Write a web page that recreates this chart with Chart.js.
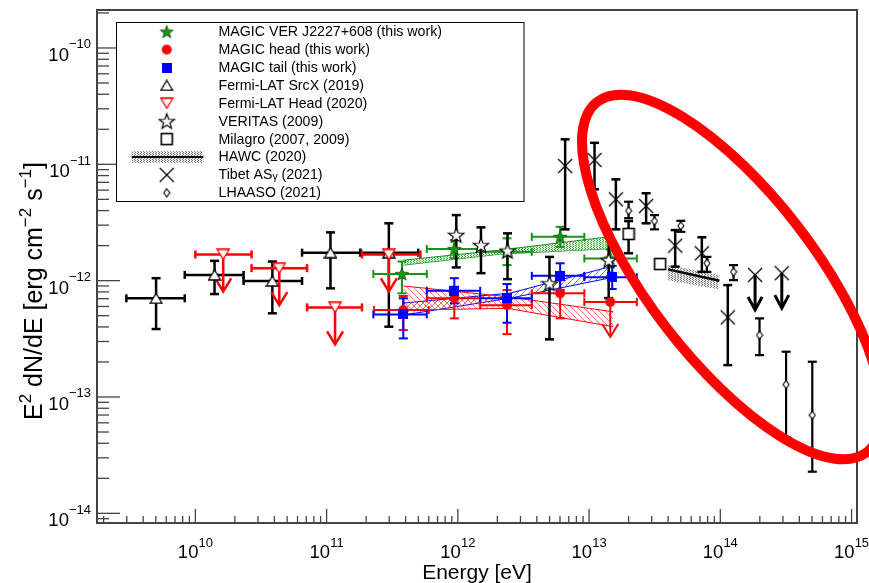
<!DOCTYPE html>
<html><head><meta charset="utf-8">
<script src="https://cdn.jsdelivr.net/npm/chart.js@4.4.1/dist/chart.umd.min.js"></script>
<style>html,body{margin:0;padding:0;background:#fff;}canvas{display:block;}</style>
</head><body>
<canvas id="c" width="869" height="583"></canvas>
<script>
// ---------------- axes ----------------
const xRange = [1.78e9, 1.10e15];
const yRange = [8.26e-15, 2.12e-10];
const xTickExponents = [10, 11, 12, 13, 14, 15];
const yTickExponents = [-14, -13, -12, -11, -10];
const xTitle = 'Energy [eV]';
const yTitleText = ['E', '2', ' dN/dE [erg cm', '\u22122', ' s', '\u22121', ']'];
const yTitleSup = [0, 1, 0, 1, 0, 1, 0];

// ---------------- legend ----------------
const legendLabels = ['MAGIC VER J2227+608 (this work)', 'MAGIC head (this work)', 'MAGIC tail (this work)',
  'Fermi-LAT SrcX (2019)', 'Fermi-LAT Head (2020)', 'VERITAS (2009)', 'Milagro (2007, 2009)',
  'HAWC (2020)', 'Tibet AS\u03b3 (2021)', 'LHAASO (2021)'];

// ---------------- Fermi-LAT SrcX ----------------
const fermiSrcX_E   = [5.02e9, 1.40e10, 3.86e10, 1.07e11, 2.98e11];
const fermiSrcX_Elo = [2.98e9, 8.3e9, 2.33e10, 6.5e10, 1.81e11];
const fermiSrcX_Ehi = [8.3e9, 2.33e10, 6.5e10, 1.81e11, 4.99e11];
const fermiSrcX_F   = [7.05e-13, 1.12e-12, 9.93e-13, 1.74e-12, 1.74e-12];
const fermiSrcX_Flo = [3.84e-13, 7.67e-13, 5.24e-13, 8.59e-13, 4.02e-13];
const fermiSrcX_Fhi = [1.05e-12, 1.48e-12, 1.46e-12, 2.60e-12, 3.11e-12];

// ---------------- Fermi-LAT Head (upper limits) ----------------
const fermiHead_E   = [1.63e10, 4.36e10, 1.16e11, 2.98e11];
const fermiHead_Elo = [1.0e10, 2.68e10, 7.1e10, 1.86e11];
const fermiHead_Ehi = [2.68e10, 7.1e10, 1.86e11, 5.18e11];
const fermiHead_F   = [1.68e-12, 1.28e-12, 5.89e-13, 1.68e-12];

// ---------------- MAGIC VER J2227+608 ----------------
const magicVer_E   = [3.75e11, 9.4e11, 2.37e12, 6.02e12, 1.45e13];
const magicVer_Elo = [2.27e11, 5.8e11, 1.48e12, 3.66e12, 9.2e12];
const magicVer_Ehi = [5.8e11, 1.48e12, 3.66e12, 9.2e12, 2.31e13];
const magicVer_F   = [1.14e-12, 1.87e-12, 1.77e-12, 2.38e-12, 1.55e-12];
const magicVer_Flo = [7.78e-13, 1.56e-12, 1.36e-12, 1.95e-12, 1.30e-12];
const magicVer_Fhi = [1.46e-12, 2.23e-12, 2.31e-12, 2.90e-12, 1.85e-12];

// ---------------- MAGIC head ----------------
const magicHead_E   = [3.84e11, 9.4e11, 2.37e12, 6.02e12, 1.45e13];
const magicHead_Elo = [2.3e11, 5.8e11, 1.48e12, 3.66e12, 9.2e12];
const magicHead_Ehi = [6.0e11, 1.48e12, 3.66e12, 9.2e12, 2.31e13];
const magicHead_F   = [5.59e-13, 7.05e-13, 6.16e-13, 7.78e-13, 6.56e-13];
const magicHead_Flo = [3.76e-13, 4.74e-13, 3.47e-13, 4.74e-13, null];
const magicHead_Fhi = [7.38e-13, 8.87e-13, 8.30e-13, 1.08e-12, null];
const magicHead_UL  = [0, 0, 0, 0, 1];

// ---------------- MAGIC tail ----------------
const magicTail_E   = [3.84e11, 9.4e11, 2.37e12, 6.02e12, 1.50e13];
const magicTail_Elo = [2.27e11, 5.8e11, 1.48e12, 3.66e12, 9.2e12];
const magicTail_Ehi = [5.8e11, 1.48e12, 3.66e12, 9.2e12, 2.31e13];
const magicTail_F   = [5.13e-13, 8.19e-13, 7.05e-13, 1.10e-12, 1.07e-12];
const magicTail_Flo = [3.19e-13, 6.38e-13, 4.35e-13, 8.30e-13, 8.47e-13];
const magicTail_Fhi = [7.05e-13, 1.05e-12, 9.35e-13, 1.41e-12, 1.34e-12];

// ---------------- VERITAS ----------------
const veritas_E   = [9.73e11, 1.50e12, 2.39e12, 4.99e12, 1.41e13];
const veritas_F   = [2.47e-12, 2.02e-12, 1.81e-12, 9.48e-13, 1.50e-12];
const veritas_Flo = [1.30e-12, 1.16e-12, 1.03e-12, 3.13e-13, 7.08e-13];
const veritas_Fhi = [3.66e-12, 2.87e-12, 2.55e-12, 1.60e-12, 2.38e-12];

// ---------------- Milagro ----------------
const milagro_E   = [2.0e13, 3.48e13];
const milagro_F   = [2.52e-12, 1.39e-12];
const milagro_Flo = [1.72e-12, 1.27e-12];
const milagro_Fhi = [3.25e-12, 1.50e-12];

// ---------------- Tibet ASgamma ----------------
const tibet_E   = [6.57e12, 1.10e13, 1.60e13, 2.72e13, 4.53e13, 7.23e13, 1.14e14, 1.84e14, 2.94e14];
const tibet_F   = [9.66e-12, 1.09e-11, 5.0e-12, 4.38e-12, 2.0e-12, 1.72e-12, 4.83e-13, 1.12e-12, 1.16e-12];
const tibet_Flo = [2.76e-12, 6.1e-12, 2.76e-12, 3.11e-12, 1.32e-12, 1.19e-12, 1.88e-13, null, null];
const tibet_Fhi = [1.64e-11, 1.53e-11, 7.43e-12, 5.64e-12, 2.72e-12, 2.36e-12, 9.16e-13, null, null];
const tibet_UL  = [0, 0, 0, 0, 0, 0, 0, 1, 1];

// ---------------- LHAASO ----------------
const lhaaso_E   = [2.0e13, 3.15e13, 5.0e13, 7.9e13, 1.26e14, 1.99e14, 3.17e14, 5.02e14];
const lhaaso_F   = [3.99e-12, 3.25e-12, 2.96e-12, 1.41e-12, 1.19e-12, 3.40e-13, 1.28e-13, 6.98e-14];
const lhaaso_Flo = [3.44e-12, 2.76e-12, 2.63e-12, 1.19e-12, 1.01e-12, 2.29e-13, 4.52e-14, 2.28e-14];
const lhaaso_Fhi = [4.77e-12, 3.66e-12, 3.27e-12, 1.60e-12, 1.36e-12, 4.74e-13, 2.45e-13, 2.01e-13];

// ---------------- spectral bands (butterflies) ----------------
const verBand_E  = [3.84e11, 2.1e12, 1.53e13];
const verBand_Hi = [1.50e-12, 1.83e-12, 2.41e-12];
const verBand_Lo = [1.36e-12, 1.69e-12, 1.89e-12];
const tailBand_E  = [3.84e11, 2.51e12, 1.53e13];
const tailBand_Hi = [6.41e-13, 7.82e-13, 1.34e-12];
const tailBand_Lo = [5.06e-13, 7.08e-13, 1.07e-12];
const headBand_E  = [3.84e11, 2.39e12, 1.53e13];
const headBand_Hi = [9.0e-13, 7.28e-13, 5.40e-13];
const headBand_Lo = [5.59e-13, 5.78e-13, 4.02e-13];
const hawc_E    = [4.0e13, 9.84e13];
const hawc_Hi   = [1.36e-12, 1.12e-12];
const hawc_Lo   = [1.01e-12, 8.41e-13];
const hawc_Line = [1.25e-12, 9.98e-13];

// ---------------- highlight ellipse (major axis end points) ----------------
const ellipseAxisE = [1.153e13, 1.31e15];
const ellipseAxisF = [3.44e-11, 3.36e-14];

// ================= styling / drawing =================
const FONT = '"Liberation Sans", Arial, Helvetica, sans-serif';
const GREEN = 'rgb(20,150,20)', RED = '#ff0000', BLUE = '#0000ff', BLACK = '#000000';
const canvas = document.getElementById('c');
const ctx0 = canvas.getContext('2d');

function mk(w, h, draw) { const c = document.createElement('canvas'); c.width = w; c.height = h; draw(c.getContext('2d'), w / 2, h / 2); return c; }
function starPath(g, cx, cy, R, r) { g.beginPath(); for (let k = 0; k < 10; k++) { const a = -Math.PI / 2 + k * Math.PI / 5; const rr = k % 2 ? r : R; g.lineTo(cx + rr * Math.cos(a), cy + rr * Math.sin(a)); } g.closePath(); }
const M = {
  greenStar: mk(16, 16, (g, cx, cy) => { starPath(g, cx, cy + 0.5, 7, 2.9); g.fillStyle = GREEN; g.fill(); g.strokeStyle = 'rgba(0,60,0,0.8)'; g.lineWidth = 0.8; g.stroke(); }),
  redCircle: mk(12, 12, (g, cx, cy) => { g.beginPath(); g.arc(cx, cy, 5, 0, 2 * Math.PI); g.fillStyle = RED; g.fill(); }),
  blueSquare: mk(10, 10, (g) => { g.fillStyle = BLUE; g.fillRect(0, 0, 10, 10); }),
  triUp: mk(14, 12, (g) => { g.beginPath(); g.moveTo(7, 1); g.lineTo(13, 11); g.lineTo(1, 11); g.closePath(); g.fillStyle = '#fff'; g.fill(); g.strokeStyle = BLACK; g.lineWidth = 1.3; g.stroke(); }),
  triDownRed: mk(14, 12, (g) => { g.beginPath(); g.moveTo(1, 1); g.lineTo(13, 1); g.lineTo(7, 11); g.closePath(); g.fillStyle = '#fff'; g.fill(); g.strokeStyle = RED; g.lineWidth = 1.3; g.stroke(); }),
  openStar: mk(18, 18, (g, cx, cy) => { starPath(g, cx, cy + 0.7, 8, 3.3); g.fillStyle = '#fff'; g.fill(); g.strokeStyle = BLACK; g.lineWidth = 1.2; g.stroke(); }),
  openSquare: mk(14, 14, (g) => { g.fillStyle = '#fff'; g.fillRect(1.5, 1.5, 11, 11); g.strokeStyle = BLACK; g.lineWidth = 1.6; g.strokeRect(1.5, 1.5, 11, 11); }),
  xMark: mk(16, 16, (g) => { g.beginPath(); g.moveTo(1, 1); g.lineTo(15, 15); g.moveTo(15, 1); g.lineTo(1, 15); g.strokeStyle = BLACK; g.lineWidth = 1.3; g.stroke(); }),
  diamond: mk(8, 10, (g) => { g.beginPath(); g.moveTo(4, 1); g.lineTo(7, 5); g.lineTo(4, 9); g.lineTo(1, 5); g.closePath(); g.fillStyle = '#fff'; g.fill(); g.strokeStyle = BLACK; g.lineWidth = 1.1; g.stroke(); })
};

function hatch(color, dir, s, lw) {
  const c = document.createElement('canvas'); c.width = s; c.height = s; const g = c.getContext('2d');
  g.strokeStyle = color; g.lineWidth = lw; g.beginPath();
  for (let k = -1; k <= 1; k++) {
    if (dir > 0) { g.moveTo(k * s, s); g.lineTo(k * s + s, 0); } else { g.moveTo(k * s, 0); g.lineTo(k * s + s, s); }
  }
  g.stroke(); return ctx0.createPattern(c, 'repeat');
}
function dots(bg, dot, w, h, pts) {
  const c = document.createElement('canvas'); c.width = w; c.height = h; const g = c.getContext('2d');
  if (bg) { g.fillStyle = bg; g.fillRect(0, 0, w, h); }
  g.fillStyle = dot; pts.forEach(p => g.fillRect(p[0], p[1], 1, 1));
  return ctx0.createPattern(c, 'repeat');
}
const P = {
  green: dots('rgba(200,235,200,0.6)', 'rgba(30,150,30,0.8)', 3, 2, [[0, 0], [2, 1]]),
  red: hatch('rgba(255,60,60,0.7)', -1, 6, 1),
  blue: hatch('rgba(40,40,255,0.6)', 1, 6, 1),
  hawc: dots('#ececec', '#777', 3, 2, [[0, 0], [2, 1]])
};

const pts = (E, F) => E.map((e, i) => ({ x: e, y: F[i] }));
function band(E, hi, lo, color, pattern, bw) {
  return [
    { type: 'line', data: pts(E, hi), borderColor: color, borderWidth: bw, pointRadius: 0, fill: '+1', backgroundColor: pattern, order: 20, tension: 0 },
    { type: 'line', data: pts(E, lo), borderColor: color, borderWidth: bw, pointRadius: 0, fill: false, order: 20, tension: 0 }
  ];
}
function markers(E, F, style, order) {
  return { type: 'scatter', data: pts(E, F), pointStyle: style, pointRadius: 5, pointHoverRadius: 5, isMarker: true, order: order };
}

const errSeries = [
  { E: fermiSrcX_E, Elo: fermiSrcX_Elo, Ehi: fermiSrcX_Ehi, F: fermiSrcX_F, Flo: fermiSrcX_Flo, Fhi: fermiSrcX_Fhi, color: BLACK, lw: 2.5 },
  { E: fermiHead_E, Elo: fermiHead_Elo, Ehi: fermiHead_Ehi, F: fermiHead_F, ul: fermiHead_E.map(() => 1), color: RED, lw: 2.5, arrow: 37, aw: 8, ah: 13 },
  { E: magicVer_E, Elo: magicVer_Elo, Ehi: magicVer_Ehi, F: magicVer_F, Flo: magicVer_Flo, Fhi: magicVer_Fhi, color: GREEN, lw: 2 },
  { E: magicHead_E, Elo: magicHead_Elo, Ehi: magicHead_Ehi, F: magicHead_F, Flo: magicHead_Flo, Fhi: magicHead_Fhi, ul: magicHead_UL, color: RED, lw: 2, arrow: 35, aw: 8, ah: 13 },
  { E: magicTail_E, Elo: magicTail_Elo, Ehi: magicTail_Ehi, F: magicTail_F, Flo: magicTail_Flo, Fhi: magicTail_Fhi, color: BLUE, lw: 2 },
  { E: veritas_E, F: veritas_F, Flo: veritas_Flo, Fhi: veritas_Fhi, color: BLACK, lw: 2.5 },
  { E: milagro_E, F: milagro_F, Flo: milagro_Flo, Fhi: milagro_Fhi, color: BLACK, lw: 2.5 },
  { E: tibet_E, F: tibet_F, Flo: tibet_Flo, Fhi: tibet_Fhi, ul: tibet_UL, color: BLACK, lw: 2.5, arrow: 35, aw: 7, ah: 13, alw: 3 },
  { E: lhaaso_E, F: lhaaso_F, Flo: lhaaso_Flo, Fhi: lhaaso_Fhi, color: BLACK, lw: 2.2 }
];

function line(ctx, x1, y1, x2, y2) { ctx.beginPath(); ctx.moveTo(x1, y1); ctx.lineTo(x2, y2); ctx.stroke(); }
function drawErrors(chart) {
  const ctx = chart.ctx, xs = chart.scales.x, ys = chart.scales.y;
  ctx.save(); ctx.lineCap = 'butt';
  errSeries.forEach(s => {
    ctx.strokeStyle = s.color;
    s.E.forEach((e, i) => {
      const px = xs.getPixelForValue(e), py = ys.getPixelForValue(s.F[i]);
      ctx.lineWidth = s.lw;
      if (s.Elo) {
        const x1 = xs.getPixelForValue(s.Elo[i]), x2 = xs.getPixelForValue(s.Ehi[i]);
        line(ctx, x1, py, x2, py); line(ctx, x1, py - 4, x1, py + 4); line(ctx, x2, py - 4, x2, py + 4);
      }
      if (s.ul && s.ul[i]) {
        ctx.lineWidth = s.alw || s.lw;
        const tip = py + s.arrow;
        line(ctx, px, py, px, tip);
        ctx.beginPath(); ctx.moveTo(px - s.aw, tip - s.ah); ctx.lineTo(px, tip); ctx.lineTo(px + s.aw, tip - s.ah); ctx.stroke();
      } else if (s.Flo && s.Flo[i] != null) {
        const y1 = ys.getPixelForValue(s.Fhi[i]), y2 = ys.getPixelForValue(s.Flo[i]);
        line(ctx, px, y1, px, y2); line(ctx, px - 4.5, y1, px + 4.5, y1); line(ctx, px - 4.5, y2, px + 4.5, y2);
      }
    });
  });
  ctx.restore();
}

function drawPow(ctx, base, exp, x, y, align, bf, ef, rise) {
  ctx.font = bf; const wb = ctx.measureText(base).width;
  ctx.font = ef; const we = ctx.measureText(exp).width;
  const tot = wb + we; const x0 = align === 'center' ? x - tot / 2 : (align === 'right' ? x - tot : x);
  ctx.textAlign = 'left'; ctx.textBaseline = 'alphabetic';
  ctx.font = bf; ctx.fillText(base, x0, y);
  ctx.font = ef; ctx.fillText(exp, x0 + wb, y - rise);
}

function drawAxes(chart) {
  const ctx = chart.ctx, a = chart.chartArea, xs = chart.scales.x, ys = chart.scales.y;
  ctx.save();
  ctx.strokeStyle = '#444'; ctx.lineWidth = 1.3;
  const lx0 = Math.floor(Math.log10(xRange[0])), lx1 = Math.ceil(Math.log10(xRange[1]));
  for (let d = lx0; d <= lx1; d++) for (let m = 1; m <= 9; m++) {
    const v = m * Math.pow(10, d); if (v < xRange[0] || v > xRange[1]) continue;
    const p = xs.getPixelForValue(v); line(ctx, p, a.bottom, p, a.bottom - (m === 1 ? 14 : 7));
  }
  const ly0 = Math.floor(Math.log10(yRange[0])), ly1 = Math.ceil(Math.log10(yRange[1]));
  for (let d = ly0; d <= ly1; d++) for (let m = 1; m <= 9; m++) {
    const v = m * Math.pow(10, d); if (v < yRange[0] || v > yRange[1]) continue;
    const p = ys.getPixelForValue(v); line(ctx, a.left, p, a.left + (m === 1 ? 23 : 12), p);
  }
  ctx.lineWidth = 2; ctx.strokeStyle = '#444';
  ctx.strokeRect(a.left, a.top, a.right - a.left, a.bottom - a.top);
  ctx.fillStyle = '#000';
  const tb = '18.5px ' + FONT, te = '13px ' + FONT;
  xTickExponents.forEach(n => { const p = xs.getPixelForValue(Math.pow(10, n)); drawPow(ctx, '10', String(n), p, 558, 'center', tb, te, 11); });
  yTickExponents.forEach(n => { const p = ys.getPixelForValue(Math.pow(10, n)); drawPow(ctx, '10', String(n).replace('-', '\u2212'), 91, p + 13, 'right', tb, te, 12.5); });
  // titles
  ctx.font = '21px ' + FONT; ctx.textAlign = 'center'; ctx.textBaseline = 'alphabetic';
  ctx.fillText(xTitle, (a.left + a.right) / 2, 579);
  ctx.save(); ctx.translate(42, 291); ctx.rotate(-Math.PI / 2);
  const bF = '25px ' + FONT, sF = '17px ' + FONT;
  let tot = 0; const ws = yTitleText.map((t, i) => { ctx.font = yTitleSup[i] ? sF : bF; const w = ctx.measureText(t).width; tot += w; return w; });
  let x = -tot / 2; ctx.textAlign = 'left';
  yTitleText.forEach((t, i) => { ctx.font = yTitleSup[i] ? sF : bF; ctx.fillText(t, x, yTitleSup[i] ? -11 : 0); x += ws[i]; });
  ctx.restore();
  ctx.restore();
}

function drawLegend(chart) {
  const ctx = chart.ctx;
  ctx.save();
  ctx.fillStyle = '#fff'; ctx.fillRect(116.5, 22.5, 407.5, 179);
  ctx.strokeStyle = '#000'; ctx.lineWidth = 1; ctx.strokeRect(116.5, 22.5, 407.5, 179);
  const syms = [M.greenStar, M.redCircle, M.blueSquare, M.triUp, M.triDownRed, M.openStar, M.openSquare, null, M.xMark, M.diamond];
  legendLabels.forEach((lab, i) => {
    const y = 31.7 + i * 17.9, mx = 166.7;
    if (syms[i]) ctx.drawImage(syms[i], mx - syms[i].width / 2, y - syms[i].height / 2);
    else {
      ctx.fillStyle = P.hawc; ctx.fillRect(131.7, y - 5.8, 71.6, 11.6);
      ctx.strokeStyle = '#000'; ctx.lineWidth = 2; line(ctx, 131.7, y, 203.3, y);
    }
    ctx.fillStyle = '#000'; ctx.textBaseline = 'middle'; ctx.textAlign = 'left';
    const gi = lab.indexOf('\u03b3');
    if (gi < 0) { ctx.font = '14.2px ' + FONT; ctx.fillText(lab, 218.5, y + 0.5); }
    else {
      const p1 = lab.slice(0, gi), p3 = lab.slice(gi + 1);
      ctx.font = '14.2px ' + FONT; ctx.fillText(p1, 218.5, y + 0.5); let xx = 218.5 + ctx.measureText(p1).width;
      ctx.font = '10.5px ' + FONT; ctx.fillText('\u03b3', xx, y + 2.5); xx += ctx.measureText('\u03b3').width;
      ctx.font = '14.2px ' + FONT; ctx.fillText(p3, xx, y + 0.5);
    }
  });
  ctx.restore();
}

function drawEllipse(chart) {
  const ctx = chart.ctx, xs = chart.scales.x, ys = chart.scales.y;
  const x1 = xs.getPixelForValue(ellipseAxisE[0]), y1 = ys.getPixelForValue(ellipseAxisF[0]);
  const x2 = xs.getPixelForValue(ellipseAxisE[1]), y2 = ys.getPixelForValue(ellipseAxisF[1]);
  const cx = (x1 + x2) / 2, cy = (y1 + y2) / 2, ra = Math.hypot(x2 - x1, y2 - y1) / 2, rot = Math.atan2(y2 - y1, x2 - x1);
  ctx.save(); ctx.strokeStyle = '#ff0000'; ctx.lineWidth = 10;
  ctx.beginPath(); ctx.ellipse(cx, cy, ra, 83, rot, 0, 2 * Math.PI); ctx.stroke(); ctx.restore();
}

const sedPlugin = {
  id: 'sed',
  beforeDatasetsDraw(chart) { chart.$errDone = false; },
  beforeDatasetDraw(chart, args) {
    const ds = chart.data.datasets[args.index];
    if (ds.isMarker && !chart.$errDone) { chart.$errDone = true; drawErrors(chart); }
  },
  afterDraw(chart) { drawAxes(chart); drawLegend(chart); drawEllipse(chart); }
};

const datasets = [].concat(
  band(headBand_E, headBand_Hi, headBand_Lo, RED, P.red, 1),
  band(tailBand_E, tailBand_Hi, tailBand_Lo, BLUE, P.blue, 1),
  band(verBand_E, verBand_Hi, verBand_Lo, GREEN, P.green, 1),
  band(hawc_E, hawc_Hi, hawc_Lo, 'rgba(0,0,0,0)', P.hawc, 0),
  [{ type: 'line', data: pts(hawc_E, hawc_Line), borderColor: BLACK, borderWidth: 2.5, pointRadius: 0, fill: false, order: 15 }],
  [
    markers(fermiSrcX_E, fermiSrcX_F, M.triUp, 9),
    markers(fermiHead_E, fermiHead_F, M.triDownRed, 8),
    markers(magicVer_E, magicVer_F, M.greenStar, 7),
    markers(magicHead_E, magicHead_F, M.redCircle, 6),
    markers(magicTail_E, magicTail_F, M.blueSquare, 5),
    markers(veritas_E, veritas_F, M.openStar, 4),
    markers(milagro_E, milagro_F, M.openSquare, 3),
    markers(tibet_E, tibet_F, M.xMark, 2),
    markers(lhaaso_E, lhaaso_F, M.diamond, 1)
  ]
);

new Chart(canvas, {
  type: 'scatter',
  data: { datasets: datasets },
  options: {
    responsive: false, animation: false, events: [],
    layout: { padding: { left: 97, top: 10, right: 12, bottom: 60 } },
    scales: {
      x: { type: 'logarithmic', min: xRange[0], max: xRange[1], display: false },
      y: { type: 'logarithmic', min: yRange[0], max: yRange[1], display: false }
    },
    plugins: { legend: { display: false }, tooltip: { enabled: false } }
  },
  plugins: [sedPlugin]
});
</script>
</body></html>
